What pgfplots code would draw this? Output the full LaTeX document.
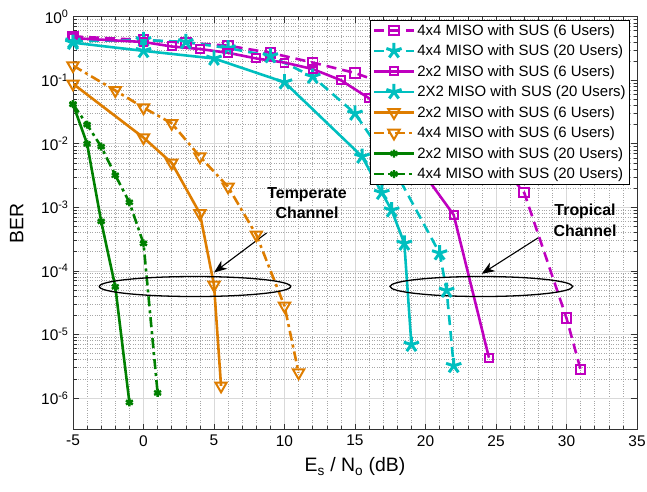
\documentclass[border=0pt]{standalone}
\usepackage{fontspec}
\setmainfont{Liberation Sans}
\usepackage{pgfplots}
\pgfplotsset{compat=1.18}
\usetikzlibrary{arrows.meta}
\definecolor{cmag}{rgb}{0.75,0,0.75}
\definecolor{ccyan}{rgb}{0,0.75,0.75}
\definecolor{corange}{rgb}{0.87,0.49,0}
\definecolor{cgreen}{rgb}{0,0.5,0}
\begin{document}
\begin{tikzpicture}
\path[use as bounding box] (-73bp,-62bp) rectangle (574bp,429.7bp);
\begin{axis}[
 at={(0,0)}, anchor=south west,
 scale only axis, width=564bp, height=413bp,
 ymode=log, xmin=-5, xmax=35, ymin=3.1623e-7, ymax=1,
 xtick={-5,0,5,10,15,20,25,30,35},
 xticklabels={-5,0,5,10,15,20,25,30,35},
 ytick={1e-6,1e-5,1e-4,1e-3,1e-2,1e-1,1},
 yticklabels={10\textsuperscript{-6},10\textsuperscript{-5},10\textsuperscript{-4},10\textsuperscript{-3},10\textsuperscript{-2},10\textsuperscript{-1},10\textsuperscript{0}},
 minor x tick num=4,
 grid=both,
 major grid style={black!15, line width=0.7pt},
 minor grid style={black!35, dotted, line width=0.6pt},
 tick align=inside,
 major tick length=6bp, minor tick length=3.5bp,
 tick style={black!80, line width=0.6pt},
 axis line style={black!80, line width=0.7pt},
 ticklabel style={font=\fontsize{15.5}{17}\selectfont},
 xticklabel style={yshift=-2bp},
 yticklabel style={xshift=-1bp},
 label style={font=\fontsize{19.5}{21}\selectfont},
 xlabel={E\textsubscript{s} / N\textsubscript{o} (dB)},
 ylabel={BER},
 xlabel style={at={(axis description cs:0.5,-0.09)},anchor=center},
 ylabel style={at={(axis description cs:-0.1,0.5)},anchor=center,rotate=0},
 legend style={at={(0.9876,0.992)},anchor=north east, draw=black, line width=0.6pt,
   font=\fontsize{15}{17}\selectfont, cells={anchor=west}, inner sep=2bp, row sep=4.2bp},
 legend image code/.code={\draw[mark repeat=2,mark phase=2] plot coordinates {(0bp,0bp) (20bp,0bp) (40bp,0bp)};},
]
% 4x4 MISO SUS 6 users (magenta dashed)
\addplot[cmag, line width=2.6pt, dash pattern=on 10bp off 6bp, mark=square, mark size=4.8bp, mark options={solid, line width=2pt, fill=white}]
 coordinates {(-5,0.49) (0,0.43) (3,0.39) (6,0.35) (9,0.27) (12,0.19) (15,0.13) (18,0.075) (21,0.035) (24,0.011) (27,1.7e-3) (30,1.8e-5) (31,2.8e-6)};
\addlegendentry{4x4 MISO with SUS (6 Users)}
% 4x4 MISO SUS 20 users (cyan dashed)
\addplot[ccyan, line width=2.6pt, dash pattern=on 10bp off 6bp, mark=star, mark size=8bp, mark options={solid, line width=3pt}]
 coordinates {(-5,0.41) (0,0.43) (3,0.40) (6,0.32) (9,0.24) (12,0.114) (15,0.03) (18,3.2e-3) (21,1.9e-4) (21.5,4.9e-5) (22,3.2e-6)};
\addlegendentry{4x4 MISO with SUS (20 Users)}
% 2x2 MISO SUS 6 users (magenta solid)
\addplot[cmag, line width=2.6pt, mark=square, mark size=4bp, mark options={solid, line width=2pt}]
 coordinates {(-5,0.46) (0,0.40) (2,0.34) (4,0.31) (6,0.27) (8,0.22) (10,0.19) (12,0.15) (14,0.10) (16,0.052) (19,6.3e-3) (22,7.6e-4) (24.5,4.3e-6)};
\addlegendentry{2x2 MISO with SUS (6 Users)}
% 2X2 MISO SUS 20 users (cyan solid)
\addplot[ccyan, line width=2.6pt, mark=star, mark size=8bp, mark options={solid, line width=3pt}]
 coordinates {(-5,0.39) (0,0.29) (5,0.22) (10,0.093) (15.5,6.3e-3) (16.9,1.7e-3) (17.6,9e-4) (18.5,2.7e-4) (19,6.9e-6)};
\addlegendentry{2X2 MISO with SUS (20 Users)}
% 2x2 MISO SUS 6 users (orange solid)
\addplot[corange, line width=2.6pt, mark=triangle, mark size=6.5bp, mark options={solid, line width=2pt, rotate=180}]
 coordinates {(-5,0.088) (0,0.0125) (2,5e-3) (4,8e-4) (5,6e-5) (5.5,1.55e-6)};
\addlegendentry{2x2 MISO with SUS (6 Users)}
% 4x4 MISO SUS 6 users (orange dash-dot)
\addplot[corange, line width=2.6pt, dash pattern=on 10bp off 4bp on 3bp off 4bp, mark=triangle, mark size=6.5bp, mark options={solid, line width=2pt, rotate=180}]
 coordinates {(-5,0.17) (-2,0.069) (0,0.037) (2,0.021) (4,6.3e-3) (6,2.1e-3) (8,3.7e-4) (10,2.8e-5) (11,2.5e-6)};
\addlegendentry{4x4 MISO with SUS (6 Users)}
% 2x2 MISO SUS 20 users (green solid)
\addplot[cgreen, line width=2.6pt, mark=asterisk, mark size=4bp, mark options={solid, line width=2.4pt}]
 coordinates {(-5,0.042) (-4,0.01) (-3,6e-4) (-2,5.6e-5) (-1,8.5e-7)};
\addlegendentry{2x2 MISO with SUS (20 Users)}
% 4x4 MISO SUS 20 users (green dash-dot)
\addplot[cgreen, line width=2.6pt, dash pattern=on 10bp off 4bp on 3bp off 4bp, mark=asterisk, mark size=4bp, mark options={solid, line width=2.4pt}]
 coordinates {(-5,0.042) (-4,0.02) (-3,0.009) (-2,3.2e-3) (-1,1.2e-3) (0,2.7e-4) (1,1.2e-6)};
\addlegendentry{4x4 MISO with SUS (20 Users)}
% annotations
\draw[black, line width=1.3pt] (rel axis cs:0.2163,0.3467) ellipse [x radius=95.7bp, y radius=10bp];
\draw[black, line width=1.3pt] (rel axis cs:0.724,0.3467) ellipse [x radius=91.3bp, y radius=10bp];
\draw[black, line width=1.1pt, -{Stealth[length=13bp,width=10bp,inset=4bp]}] (rel axis cs:0.3434,0.4765) -- (rel axis cs:0.25,0.3806);
\draw[black, line width=1.1pt, -{Stealth[length=13bp,width=10bp,inset=4bp]}] (rel axis cs:0.8245,0.4644) -- (rel axis cs:0.7246,0.3774);
\node[font=\bfseries\fontsize{16}{21}\selectfont, align=center] at (rel axis cs:0.415,0.5487) {Temperate\\Channel};
\node[font=\bfseries\fontsize{16}{21}\selectfont, align=center] at (rel axis cs:0.9078,0.5081) {Tropical\\Channel};
\end{axis}
\end{tikzpicture}
\end{document}
